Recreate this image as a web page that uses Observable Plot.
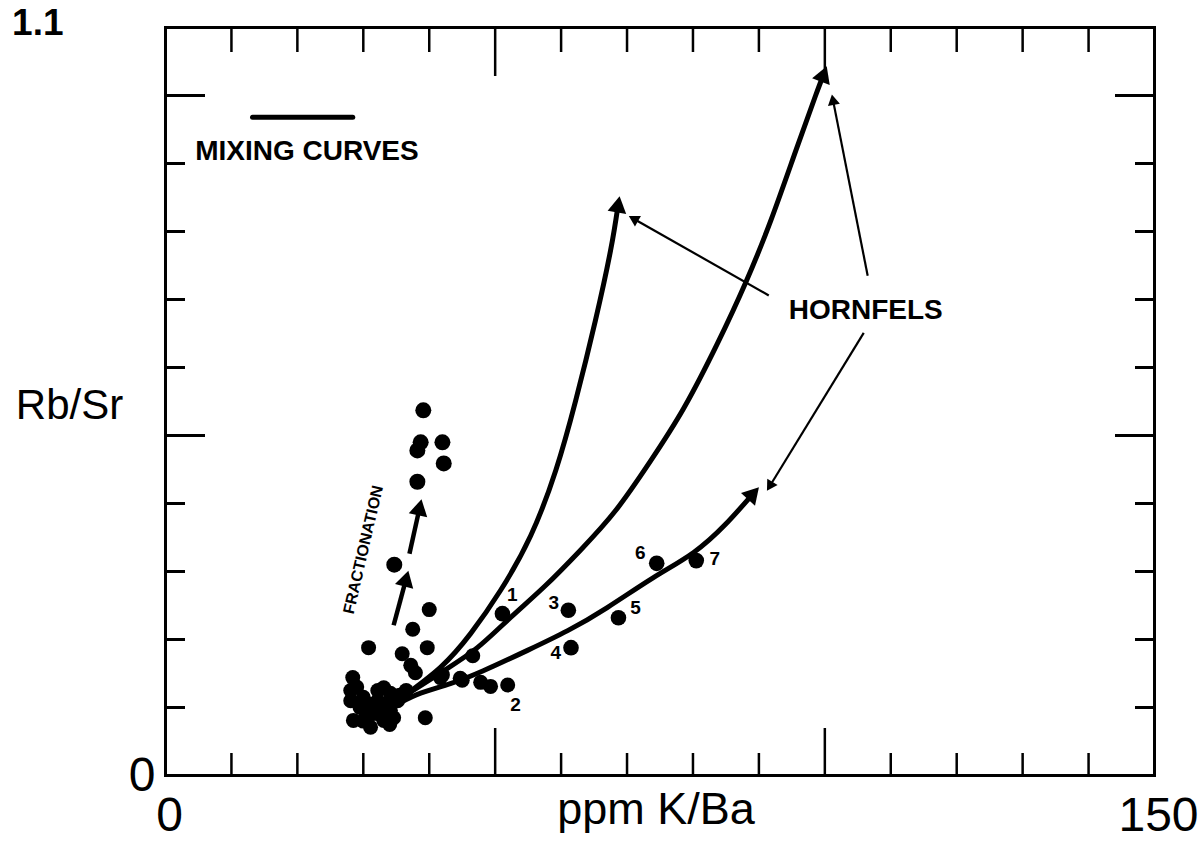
<!DOCTYPE html>
<html><head><meta charset="utf-8">
<script src="https://cdn.jsdelivr.net/npm/d3@7"></script>
<script src="https://cdn.jsdelivr.net/npm/@observablehq/plot@0.6"></script>
<style>body{margin:0;background:#fff} svg{display:block;background:#fff}</style>
</head><body><div id="chart"></div>
<script>
// ---- data (ppm K/Ba, Rb/Sr) ----
const clusterPoints = [
  [28.4,0.144],[28.1,0.125],[28.1,0.110],[30.0,0.115],[32.2,0.125],[33.1,0.129],[34.1,0.121],
  [35.2,0.110],[32.6,0.100],[34.1,0.096],[31.5,0.091],[33.1,0.081],[31.1,0.071],[28.5,0.081],
  [34.6,0.085],[32.2,0.110],[29.5,0.100],[30.5,0.090],[33.5,0.105],[35.5,0.118],[36.5,0.125],
  [31.5,0.105],[32.5,0.090],[29.0,0.130],[30.8,0.188],[35.9,0.179],[37.2,0.162],[37.9,0.151],
  [39.7,0.188],[39.4,0.085],[41.7,0.144],[44.7,0.143],[46.6,0.176],[45.0,0.140],[47.8,0.137],
  [49.3,0.131],[51.9,0.133],[40.0,0.244],[37.5,0.215],[42.0,0.148],[30.0,0.080],[34.0,0.075]
];
const fractionationPoints = [
  [39.1,0.537],[38.7,0.490],[38.2,0.478],[42.0,0.490],[42.2,0.459],[38.2,0.432],[34.7,0.310]
];
const numberedPoints = [
  [51.1,0.238],[61.1,0.243],[61.5,0.188],[68.7,0.232],[74.5,0.312],[80.5,0.316]
];
const sampleLabels = ["1","2","3","4","5","6","7"];
const sampleLabelPos = [
  [52.6,0.265],[53.1,0.104],[58.9,0.254],[59.2,0.181],[71.3,0.247],[72.0,0.328],[83.3,0.318]
];
const curveA = [[35.9,0.115],[41.7,0.159],[46.3,0.209],[50.8,0.272],[55.4,0.353],[59.2,0.449],
  [62.2,0.551],[65.2,0.669],[67.5,0.772],[68.6,0.836]];
const curveB = [[35.9,0.115],[42.2,0.154],[47.3,0.188],[52.3,0.232],[57.6,0.279],[62.9,0.331],
  [68.3,0.390],[73.6,0.463],[78.6,0.540],[83.7,0.635],[88.0,0.725],[91.8,0.816],[95.6,0.919],
  [98.6,1.000],[99.7,1.028]];
const curveC = [[35.6,0.107],[38.7,0.121],[43.2,0.135],[48.2,0.154],[54.9,0.184],[61.0,0.213],
  [67.0,0.247],[74.0,0.291],[80.1,0.328],[84.9,0.369],[88.9,0.412]];
const hornfelsArrows = [
  [[91.5,0.706],[70.4,0.822]],
  [[106.5,0.735],[101.1,1.000]],
  [[105.9,0.651],[91.3,0.420]]
];
const fractionationArrows = [
  [[34.6,0.221],[36.8,0.300]],
  [[37.0,0.326],[38.8,0.405]]
];
const legendLine = [[13.2,0.968],[28.4,0.968]];
const xTicks = [10,20,30,40,50,60,70,80,90,100,110,120,130,140];
const xMajorTicks = [50,100];
const yTicks = [0.1,0.2,0.3,0.4,0.5,0.6,0.7,0.8,0.9,1.0];
const yMajorTicks = [0.5,1.0];
const xTickLabels = [0,150];
const yTickLabels = [[0,"0"],[1.1,"1.1"]];

// ---- layout ----
const W = 1198, H = 841, mL = 165, mR = 44, mT = 27, mB = 66;
const fw = W - mL - mR, fh = H - mT - mB;
const kx = fw / 150, ky = fh / 1.1;
const font = "Liberation Sans, Arial, sans-serif";
const curves = [curveA, curveB, curveC];
const tips = curves.map(c => {
  const a = c[c.length - 2], b = c[c.length - 1];
  const ang = Math.atan2((b[0]-a[0])*kx, (b[1]-a[1])*ky) * 180 / Math.PI;
  return {x: b[0], y: b[1], r: ang};
});
// arrowhead: triangle centroid set back from the tip by `back` px
function head(seg, back) {
  const [a, b] = seg;
  const px = (b[0]-a[0])*kx, py = (b[1]-a[1])*ky;
  const len = Math.hypot(px, py);
  return {x: b[0] - px/len*back/kx, y: b[1] - py/len*back/ky,
          r: Math.atan2(px, py) * 180 / Math.PI, x0: a[0], y0: a[1]};
}
const fracHeads = fractionationArrows.map(s => head(s, 10));
const hornHeads = hornfelsArrows.map(s => head(s, 6));
const minorX = xTicks.filter(t => !xMajorTicks.includes(t));
const minorY = yTicks.filter(t => !yMajorTicks.includes(t));

const chart = Plot.plot({
  width: W, height: H,
  marginLeft: mL, marginRight: mR, marginTop: mT, marginBottom: mB,
  x: {domain: [0,150], axis: null},
  y: {domain: [0,1.1], axis: null},
  style: {background: "#fff", fontFamily: font},
  marks: [
    Plot.frame({stroke: "#000", strokeWidth: 3}),
    // inward ticks
    Plot.ruleX(minorX, {x: d => d, insetTop: fh - 22, stroke: "#000", strokeWidth: 2.5}),
    Plot.ruleX(xMajorTicks, {x: d => d, insetTop: fh - 47, stroke: "#000", strokeWidth: 2.5}),
    Plot.ruleX(minorX, {x: d => d, insetBottom: fh - 25, stroke: "#000", strokeWidth: 2.5}),
    Plot.ruleX(xMajorTicks, {x: d => d, insetBottom: fh - 49, stroke: "#000", strokeWidth: 2.5}),
    Plot.ruleY(minorY, {y: d => d, insetRight: fw - 20, stroke: "#000", strokeWidth: 3}),
    Plot.ruleY(yMajorTicks, {y: d => d, insetRight: fw - 40, stroke: "#000", strokeWidth: 3}),
    Plot.ruleY(minorY, {y: d => d, insetLeft: fw - 19, stroke: "#000", strokeWidth: 3}),
    Plot.ruleY(yMajorTicks, {y: d => d, insetLeft: fw - 39, stroke: "#000", strokeWidth: 3}),
    // tick labels
    Plot.text(xTickLabels, {x: d => d, y: 0, dy: 40, dx: 4,
      text: d => String(d), textAnchor: "middle", lineAnchor: "middle",
      fontSize: 48, fill: "#000", fontFamily: font}),
    Plot.text(yTickLabels, {y: d => d[0], x: 0, text: d => d[1],
      textAnchor: "end", lineAnchor: "middle", dx: -10, dy: 0,
      fontSize: 48, fill: "#000", fontFamily: font,
      filter: d => d[0] === 0}),
    Plot.text(yTickLabels, {y: d => d[0], x: 0, text: d => d[1],
      textAnchor: "end", lineAnchor: "middle", dx: -102, dy: -4,
      fontSize: 37, fontWeight: "bold", fill: "#000", fontFamily: font, letterSpacing: "-2px",
      filter: d => d[0] !== 0}),
    // axis titles
    Plot.text(["ppm K/Ba"], {frameAnchor: "bottom", dy: 34, dx: -4, text: d => d,
      textAnchor: "middle", lineAnchor: "middle",
      fontSize: 45, fill: "#000", fontFamily: font, letterSpacing: "3px"}),
    Plot.text(["Rb/Sr"], {frameAnchor: "left", dx: -96, dy: 4, text: d => d,
      textAnchor: "middle", lineAnchor: "middle",
      fontSize: 42, fill: "#000", fontFamily: font, letterSpacing: "2px"}),
    // mixing curves
    ...curves.map(c => Plot.line(c, {x: d => d[0], y: d => d[1], curve: "natural",
      stroke: "#000", strokeWidth: 5, strokeLinecap: "round"})),
    Plot.dot(tips, {x: "x", y: "y", symbol: "triangle", r: 7, rotate: "r", fill: "#000", stroke: "none"}),
    // legend
    Plot.line(legendLine, {x: d => d[0], y: d => d[1], stroke: "#000", strokeWidth: 5}),
    Plot.text(["MIXING CURVES"], {x: 4.5, y: 0.918, text: d => d, textAnchor: "start",
      fontSize: 28, fontWeight: "bold", fill: "#000", fontFamily: font, letterSpacing: "0.7px"}),
    // points
    Plot.dot(clusterPoints, {x: d => d[0], y: d => d[1], r: 7.5, fill: "#000", stroke: "none"}),
    Plot.dot(fractionationPoints, {x: d => d[0], y: d => d[1], r: 8, fill: "#000", stroke: "none"}),
    Plot.dot(numberedPoints, {x: d => d[0], y: d => d[1], r: 7.8, fill: "#000", stroke: "none"}),
    Plot.text(sampleLabels, {x: (d, i) => sampleLabelPos[i][0], y: (d, i) => sampleLabelPos[i][1],
      text: d => d, fontSize: 19, fontWeight: "bold", fill: "#000", fontFamily: font}),
    // fractionation arrows
    Plot.link(fracHeads, {x1: "x0", y1: "y0", x2: "x", y2: "y", stroke: "#000", strokeWidth: 4.5}),
    Plot.dot(fracHeads, {x: "x", y: "y", symbol: "triangle", r: 7, rotate: "r", fill: "#000", stroke: "none"}),
    Plot.text(["FRACTIONATION"], {x: 30.0, y: 0.332, text: d => d, rotate: -77,
      fontSize: 16, fontWeight: "bold", fill: "#000", fontFamily: font, letterSpacing: "1.8px"}),
    // hornfels annotation
    Plot.link(hornHeads, {x1: "x0", y1: "y0", x2: "x", y2: "y", stroke: "#000", strokeWidth: 2.2}),
    Plot.dot(hornHeads, {x: "x", y: "y", symbol: "triangle", r: 4.5, rotate: "r", fill: "#000", stroke: "none"}),
    Plot.text(["HORNFELS"], {x: 106.2, y: 0.685, text: d => d, fontSize: 28, fontWeight: "bold",
      fill: "#000", fontFamily: font, letterSpacing: "1.5px"})
  ]
});
document.getElementById("chart").appendChild(chart);
</script>
</body></html>
